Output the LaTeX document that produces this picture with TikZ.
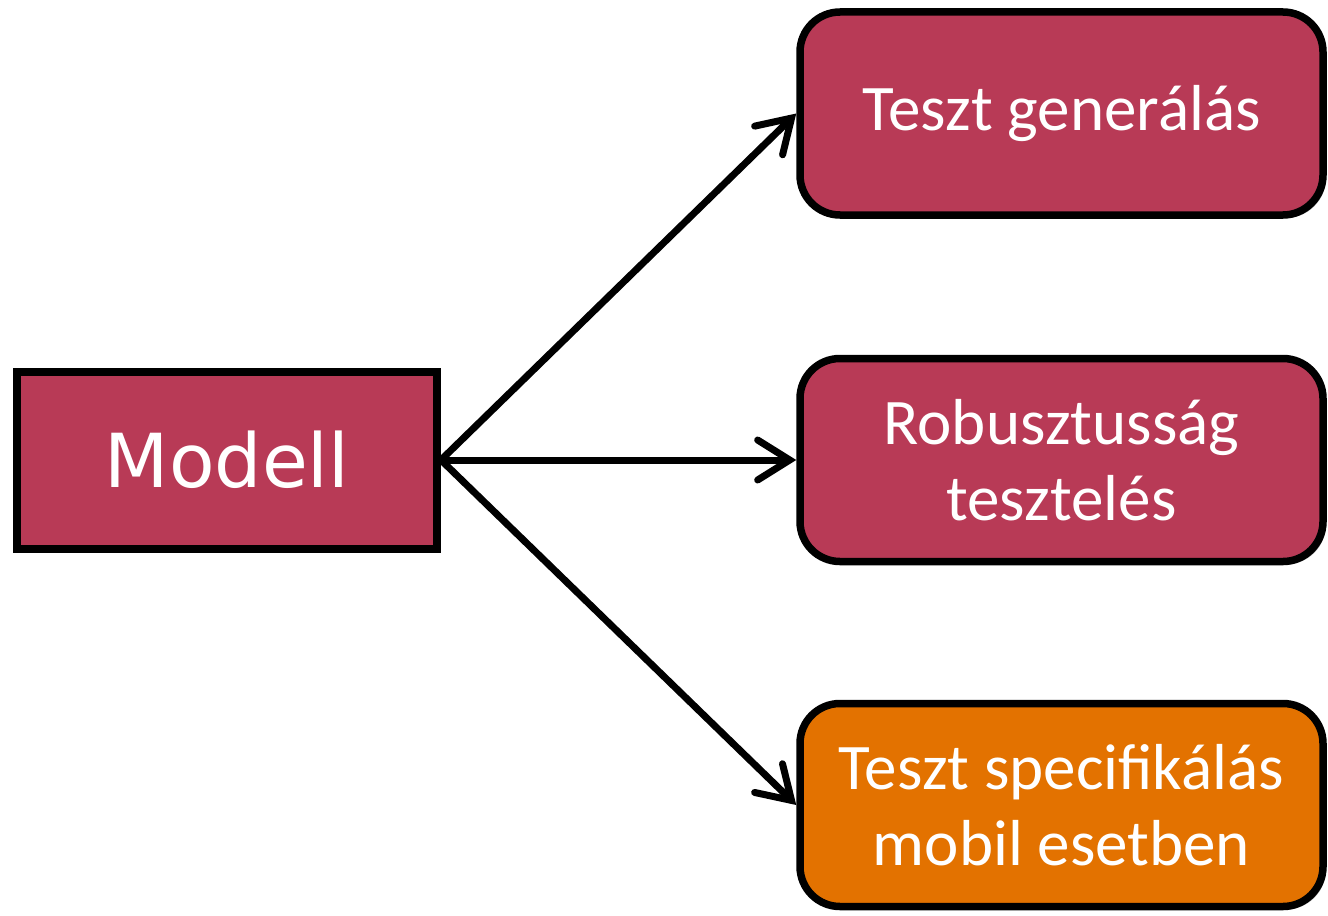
\documentclass[tikz,border=0pt]{standalone}
\usepackage{fontspec}
\setmainfont{Carlito}
\newfontfamily\modellfont{DejaVu Sans}
\usepackage{xcolor}
\usetikzlibrary{
    arrows.meta,
    shadows,
    positioning
}
\definecolor{boxred}{HTML}{B83A56}
\definecolor{boxorange}{HTML}{E37200}
\tikzset{
    box/.style={draw=black, line width=0.075cm, text=white, align=center,
        font=\fontsize{18.5}{21.5}\selectfont,
        drop shadow={shadow xshift=0.03cm, shadow yshift=-0.03cm, fill=gray!70, opacity=0.8}},
    stepbox/.style={box, rounded corners=0.4cm, minimum width=5.23cm, minimum height=2.03cm},
    link/.style={line width=0.07cm, line cap=round,
        -{Straight Barb[length=0.32cm, width=0.4cm, line cap=round]}}
}

\begin{document}
\begin{tikzpicture}[x=1cm, y=1cm]
                        \useasboundingbox (0, 0) rectangle (13.28, -9.15);

                        \node[box, fill=boxred, line width=0.08cm, minimum width=4.2cm, minimum height=1.77cm,
                            font=\modellfont\fontsize{21.2}{25}\selectfont]
                            (modell) at (2.27, -4.6) {Modell};

                        \node[stepbox, fill=boxred] (gen) at (10.615, -1.135) {Teszt generálás};
                        \node[stepbox, fill=boxred] (rob) at (10.615, -4.6) {Robusztusság\\tesztelés};
                        \node[stepbox, fill=boxorange] (spec) at (10.615, -8.05) {Teszt specifikálás\\mobil esetben};

                        \draw[link] (modell.east) -- (gen.west);
                        \draw[link] (modell.east) -- (rob.west);
                        \draw[link] (modell.east) -- (spec.west);
                    \end{tikzpicture}
\end{document}
